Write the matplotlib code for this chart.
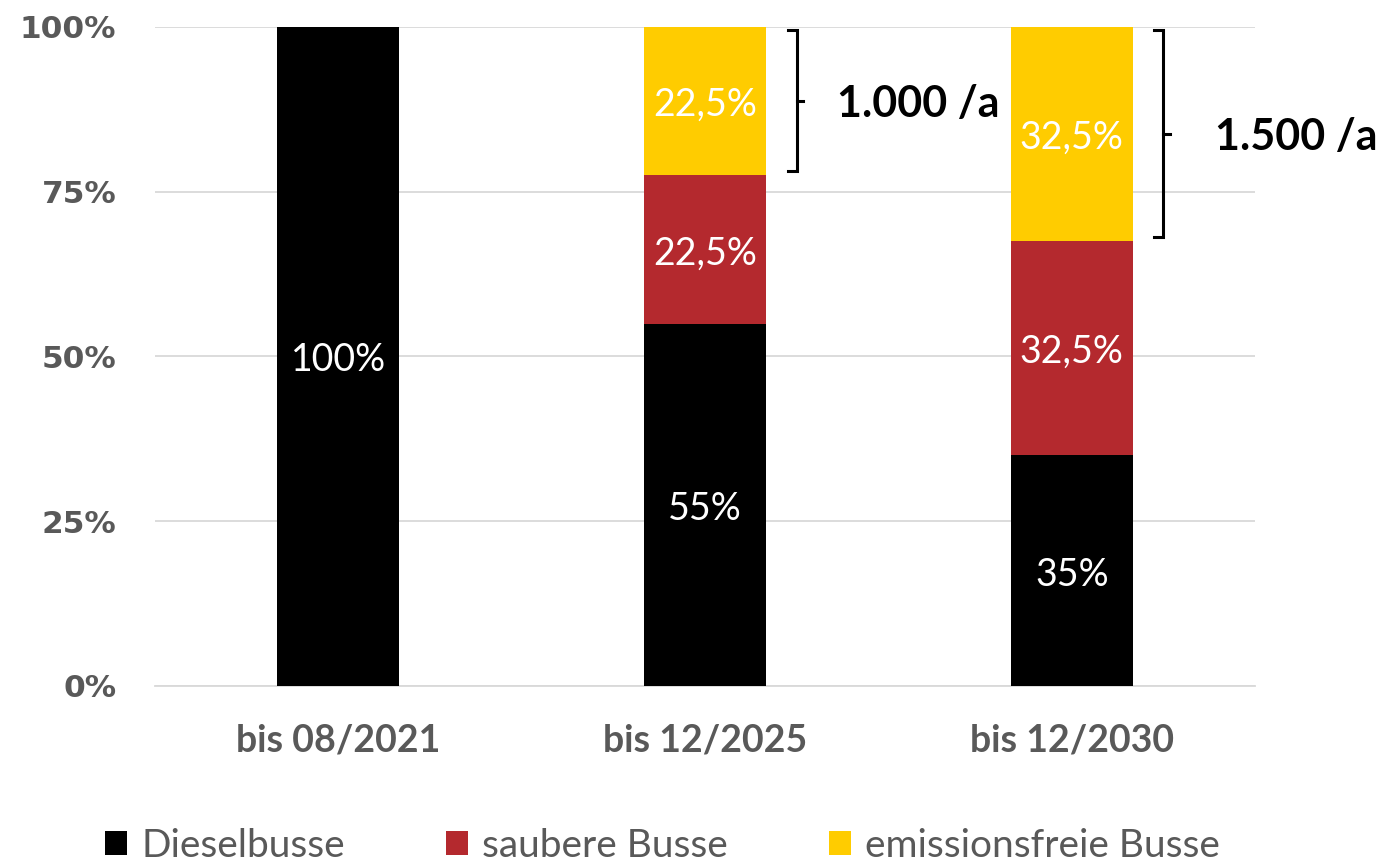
import matplotlib
matplotlib.use("Agg")
import matplotlib.pyplot as plt
from matplotlib.patches import Patch
import numpy as np

# Daten
categories = ["bis 08/2021", "bis 12/2025", "bis 12/2030"]
series_names = ["Dieselbusse", "saubere Busse", "emissionsfreie Busse"]
diesel = [100, 55, 35]
sauber = [0, 22.5, 32.5]
emissionsfrei = [0, 22.5, 32.5]
label_diesel = ["100%", "55%", "35%"]
label_sauber = ["", "22,5%", "32,5%"]
label_frei = ["", "22,5%", "32,5%"]
rate_labels = ["", "1.000 /a", "1.500 /a"]

colors = ["#000000", "#B4292E", "#FFCC00"]
gray = "#595959"
txt_font = "Lato"

fig = plt.figure(figsize=(13.93, 8.68), dpi=100)
ax = fig.add_axes([0.1113, 0.2097, 0.7897, 0.7592])

x = np.arange(len(categories))
w = 0.333
diesel = np.array(diesel)
sauber = np.array(sauber)
emissionsfrei = np.array(emissionsfrei)

stacks = [(diesel, np.zeros(3), label_diesel),
          (sauber, diesel, label_sauber),
          (emissionsfrei, diesel + sauber, label_frei)]

for (vals, bottom, labels), c in zip(stacks, colors):
    ax.bar(x, vals, w, bottom=bottom, color=c, zorder=3)
    for xi, v, b, lab in zip(x, vals, bottom, labels):
        if v > 0 and lab:
            ax.text(xi, b + v / 2 - 0.6, lab, ha="center", va="center", color="white",
                    fontsize=27, family=txt_font, zorder=4)

# Klammern mit Jahresraten
text_off = [0, 0.36, 0.39]
for xi, b, lab, off in zip(x, diesel + sauber, rate_labels, text_off):
    if not lab:
        continue
    top = 99.5
    bot = b + 0.6
    bx = xi + 0.25
    ax.plot([bx - 0.025, bx, bx, bx - 0.025], [top, top, bot, bot],
            color="black", lw=2.2, clip_on=False, zorder=5, solid_joinstyle="miter")
    mid = (top + bot) / 2
    ax.plot([bx, bx + 0.018], [mid, mid], color="black", lw=2.2, clip_on=False, zorder=5)
    ax.text(xi + off, mid - 0.5, lab, ha="left", va="center", fontsize=31,
            fontweight="bold", family=txt_font, color="black", clip_on=False)

ax.set_xlim(-0.5, 2.5)
ax.set_ylim(0, 100)
ax.set_yticks([0, 25, 50, 75, 100])
ax.set_yticklabels(["0%", "25%", "50%", "75%", "100%"], fontsize=22.5,
                   fontweight="bold", color=gray, family="DejaVu Sans")
ax.set_xticks(x)
ax.set_xticklabels(categories, fontsize=27, fontweight="bold", color=gray, family=txt_font)
ax.tick_params(axis="y", length=0, pad=28)
ax.tick_params(axis="x", length=0, pad=27)
ax.grid(axis="y", color="#D9D9D9", lw=1.3, zorder=0)
for s in ["top", "right", "left"]:
    ax.spines[s].set_visible(False)
ax.spines["bottom"].set_color("#D9D9D9")
ax.spines["bottom"].set_linewidth(1.3)

handles = [Patch(facecolor=c, edgecolor="none") for c in colors]
leg = fig.legend(handles, series_names, loc="center left", ncol=3, frameon=False,
                 bbox_to_anchor=(105 / 1393, 1 - 846 / 868), borderpad=0, borderaxespad=0,
                 handlelength=0.57, handleheight=0.57,
                 handletextpad=0.36, columnspacing=2.6,
                 prop={"family": txt_font, "size": 28})
for t in leg.get_texts():
    t.set_color(gray)

fig.savefig("out.png", dpi=100)
